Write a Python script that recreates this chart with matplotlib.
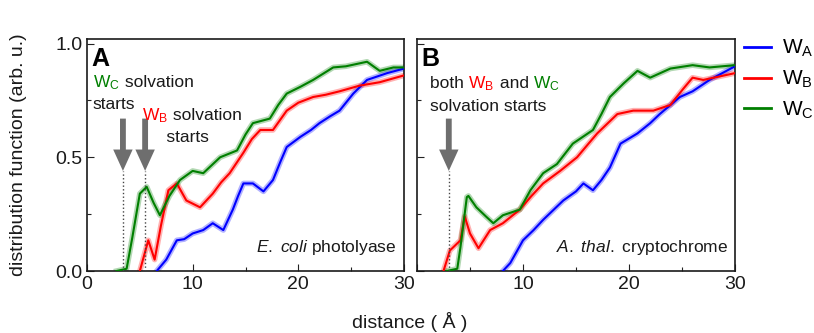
import matplotlib
matplotlib.use("Agg")
import matplotlib.pyplot as plt
from matplotlib.offsetbox import TextArea, HPacker, VPacker, AnnotationBbox
from matplotlib.lines import Line2D
from matplotlib.ticker import MultipleLocator

plt.rcParams['font.family'] = ['Liberation Sans', 'DejaVu Sans']
plt.rcParams['mathtext.fontset'] = 'custom'
plt.rcParams['mathtext.rm'] = 'Liberation Sans'
plt.rcParams['mathtext.it'] = 'Liberation Sans:italic'

# ---------------- data (distance in Angstrom, distribution function) -------------
# Panel A: E. coli photolyase
a_wa_x = [6.6, 7.5, 8.5, 9.2, 10.0, 11.0, 11.9, 12.9, 13.8, 14.3, 14.8, 15.7, 16.7, 17.6, 18.3, 18.9, 20.2, 21.2, 22.0, 23.0, 23.9, 25.2, 26.5, 28.4, 30.0]
a_wa_y = [0.0, 0.05, 0.135, 0.14, 0.165, 0.18, 0.21, 0.18, 0.27, 0.33, 0.385, 0.385, 0.35, 0.40, 0.48, 0.545, 0.59, 0.62, 0.65, 0.68, 0.705, 0.78, 0.84, 0.87, 0.89]
a_wb_x = [5.0, 5.8, 6.4, 7.0, 7.7, 8.5, 9.4, 10.7, 11.9, 12.7, 13.5, 14.8, 15.6, 16.4, 17.6, 18.9, 20.0, 21.4, 22.6, 23.9, 25.8, 27.7, 30.0]
a_wb_y = [0.0, 0.135, 0.05, 0.2, 0.355, 0.385, 0.31, 0.28, 0.34, 0.39, 0.43, 0.52, 0.58, 0.62, 0.62, 0.705, 0.74, 0.765, 0.775, 0.79, 0.815, 0.83, 0.86]
a_wc_x = [2.8, 3.75, 4.3, 5.0, 5.65, 6.3, 6.9, 7.8, 8.8, 10.0, 11.0, 12.6, 14.2, 15.0, 15.7, 17.3, 18.1, 18.9, 20.2, 21.4, 23.3, 24.5, 25.5, 26.5, 27.7, 29.0, 30.0]
a_wc_y = [0.0, 0.01, 0.15, 0.34, 0.37, 0.3, 0.245, 0.33, 0.40, 0.44, 0.43, 0.50, 0.53, 0.60, 0.65, 0.67, 0.73, 0.78, 0.81, 0.84, 0.895, 0.9, 0.91, 0.92, 0.88, 0.895, 0.895]

# Panel B: A. thal. cryptochrome
b_wa_x = [8.1, 8.8, 10.0, 11.0, 11.9, 13.8, 15.0, 15.7, 16.6, 17.4, 18.2, 19.2, 20.8, 22.0, 22.9, 24.8, 26.0, 27.6, 30.0]
b_wa_y = [0.0, 0.035, 0.135, 0.18, 0.225, 0.31, 0.35, 0.385, 0.355, 0.40, 0.455, 0.56, 0.605, 0.65, 0.69, 0.765, 0.79, 0.84, 0.90]
b_wb_x = [2.5, 3.1, 4.1, 4.5, 5.0, 5.8, 6.9, 8.1, 9.7, 10.8, 11.9, 13.5, 15.1, 16.0, 17.0, 18.9, 20.4, 22.3, 23.9, 25.1, 26.0, 27.0, 28.5, 30.0]
b_wb_y = [0.0, 0.09, 0.135, 0.24, 0.165, 0.10, 0.18, 0.21, 0.27, 0.33, 0.385, 0.44, 0.50, 0.55, 0.605, 0.69, 0.705, 0.705, 0.73, 0.80, 0.85, 0.84, 0.855, 0.87]
b_wc_x = [2.8, 3.8, 4.1, 4.7, 4.85, 5.6, 6.5, 7.2, 8.1, 9.7, 10.7, 11.9, 13.2, 14.7, 16.6, 17.4, 18.2, 19.5, 20.8, 22.0, 23.9, 26.0, 27.6, 30.0]
b_wc_y = [0.0, 0.01, 0.105, 0.325, 0.33, 0.28, 0.24, 0.21, 0.245, 0.27, 0.355, 0.43, 0.47, 0.56, 0.62, 0.69, 0.765, 0.825, 0.88, 0.85, 0.89, 0.905, 0.895, 0.905]

series_names = ['W$_\\mathregular{A}$', 'W$_\\mathregular{B}$', 'W$_\\mathregular{C}$']
series_colors = ['#0000ff', '#ff0000', '#007f00']
x_ticks = [0, 10, 20, 30]
y_ticks = [0.0, 0.5, 1.0]
y_tick_labels = ['0.0', '0.5', '1.0']

# arrows: x position of solvation start (Angstrom)
a_arrows = [3.4, 5.5]
b_arrows = [3.0]

# ---------------- figure ----------------
W, H = 814, 333
fig = plt.figure(figsize=(W / 100, H / 100), dpi=100)
axA = fig.add_axes([87 / W, 1 - 271 / H, (404 - 87) / W, (271 - 39) / H])
axB = fig.add_axes([417 / W, 1 - 271 / H, (735 - 417) / W, (271 - 39) / H])

panels = [
    (axA, [(a_wa_x, a_wa_y), (a_wb_x, a_wb_y), (a_wc_x, a_wc_y)]),
    (axB, [(b_wa_x, b_wa_y), (b_wb_x, b_wb_y), (b_wc_x, b_wc_y)]),
]

for ax, data in panels:
    for (xs, ys), c in zip(data, series_colors):
        ax.plot(xs, ys, color=c, lw=4.0, alpha=0.3, solid_joinstyle='round', zorder=2)
        ax.plot(xs, ys, color=c, lw=1.5, zorder=3)
    ax.set_xlim(0, 30)
    ax.set_ylim(0, 1.02)
    ax.set_xticks(x_ticks)
    ax.set_yticks(y_ticks)
    ax.xaxis.set_minor_locator(MultipleLocator(5))
    ax.yaxis.set_minor_locator(MultipleLocator(0.25))
    ax.tick_params(which='both', direction='in', top=False, right=False,
                   labelsize=14, color='#222222', labelcolor='#1a1a1a')
    ax.tick_params(which='major', length=5, width=0.8)
    ax.tick_params(which='minor', length=3, width=0.8)
    for s in ax.spines.values():
        s.set_linewidth(1.2)
        s.set_color('#1a1a1a')

axA.set_xticklabels([str(t) for t in x_ticks])
axA.set_yticklabels(y_tick_labels)
axB.set_xticklabels(['', '10', '20', '30'])
axB.set_yticklabels([])


def draw_arrow(ax, x):
    ax.annotate('', xy=(x, 0.44), xytext=(x, 0.67),
                arrowprops=dict(arrowstyle='simple,head_length=1.1,head_width=1.0,tail_width=0.3',
                                color='#6e6e6e', lw=0, mutation_scale=14, shrinkA=0, shrinkB=0),
                zorder=5)
    ax.plot([x, x], [0, 0.44], ls=':', color='#444444', lw=1.0, zorder=4)


for x in a_arrows:
    draw_arrow(axA, x)
for x in b_arrows:
    draw_arrow(axB, x)

# panel letters
axA.text(0.4, 0.985, 'A', fontsize=18, fontweight='bold', va='top', ha='left')
axB.text(0.4, 0.985, 'B', fontsize=18, fontweight='bold', va='top', ha='left')

fs = 12.5


def multi_line(ax, lines, xy, align='left'):
    rows = []
    for parts in lines:
        areas = [TextArea(s, textprops=dict(color=c, fontsize=fs)) for s, c in parts]
        rows.append(HPacker(children=areas, align='baseline', pad=0, sep=0))
    box = VPacker(children=rows, align=align, pad=0, sep=4)
    ab = AnnotationBbox(box, xy, xycoords='data', box_alignment=(0, 1), frameon=False, pad=0, zorder=6)
    ax.add_artist(ab)


green, red, black = series_colors[2], series_colors[1], '#1a1a1a'
multi_line(axA, [[('W$_\\mathregular{C}$', green), (' solvation', black)],
                 [('starts', black)]], (0.55, 0.87))
multi_line(axA, [[('W$_\\mathregular{B}$', red), (' solvation', black)],
                 [('     starts', black)]], (5.2, 0.725))
multi_line(axB, [[('both ', black), ('W$_\\mathregular{B}$', red), (' and ', black),
                  ('W$_\\mathregular{C}$', green)],
                 [('solvation starts', black)]], (1.2, 0.865))

axA.text(29.3, 0.06, '$\\mathit{E.\\ coli}$ photolyase', fontsize=12.5, ha='right', va='bottom', color=black)
axB.text(29.3, 0.06, '$\\mathit{A.\\ thal.}$ cryptochrome', fontsize=12.5, ha='right', va='bottom', color=black)

fig.text(410 / W, 1 - 322 / H, 'distance ( Å )', fontsize=14, ha='center', va='center', color=black)
fig.text(19 / W, 1 - 155 / H, 'distribution function (arb. u.)', fontsize=14, ha='center',
         va='center', rotation=90, color=black)

handles = [Line2D([], [], color=c, lw=2) for c in series_colors]
fig.legend(handles, series_names, loc='upper left', bbox_to_anchor=(740 / W, 1 - 34 / H),
           frameon=False, fontsize=15, handlelength=1.3, handletextpad=0.5, labelspacing=0.45,
           borderaxespad=0, borderpad=0.2)

fig.savefig('out.png', dpi=100)
